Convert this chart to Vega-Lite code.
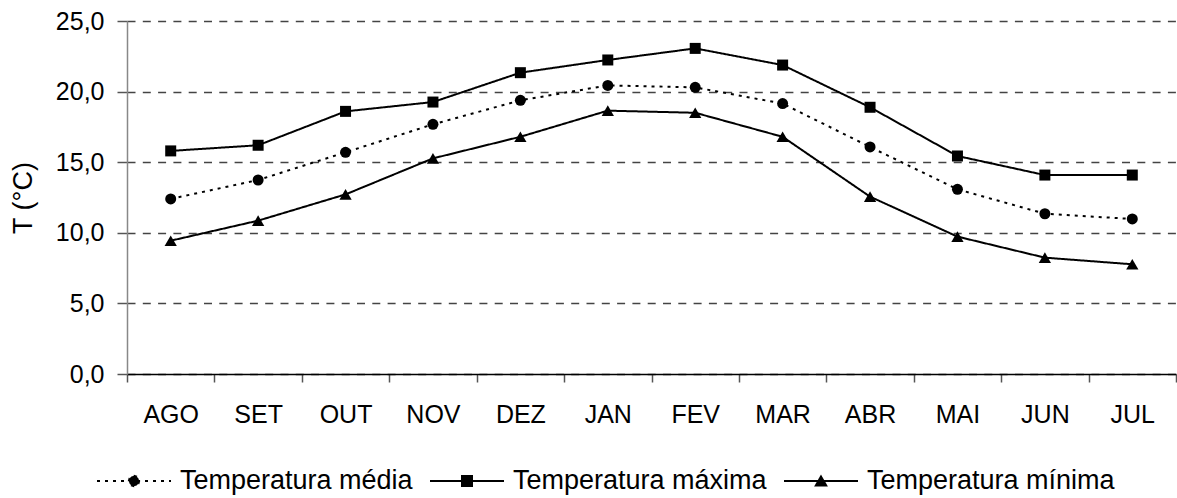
{
  "$schema": "https://vega.github.io/schema/vega-lite/v6.json",
  "autosize": "none",
  "width": 1049,
  "height": 353,
  "padding": {"left": 127, "top": 21, "right": 1, "bottom": 124},
  "background": "white",
  "config": {
    "font": "Liberation Sans",
    "view": {"stroke": null},
    "axis": {"labelFont": "Liberation Sans", "titleFont": "Liberation Sans", "labelColor": "black", "titleColor": "black"}
  },
  "data": {
    "values": [
      {"mes": "AGO", "serie": "Temperatura média", "t": 12.4},
      {"mes": "SET", "serie": "Temperatura média", "t": 13.74},
      {"mes": "OUT", "serie": "Temperatura média", "t": 15.7},
      {"mes": "NOV", "serie": "Temperatura média", "t": 17.68},
      {"mes": "DEZ", "serie": "Temperatura média", "t": 19.38},
      {"mes": "JAN", "serie": "Temperatura média", "t": 20.44},
      {"mes": "FEV", "serie": "Temperatura média", "t": 20.3},
      {"mes": "MAR", "serie": "Temperatura média", "t": 19.15},
      {"mes": "ABR", "serie": "Temperatura média", "t": 16.08},
      {"mes": "MAI", "serie": "Temperatura média", "t": 13.08},
      {"mes": "JUN", "serie": "Temperatura média", "t": 11.35},
      {"mes": "JUL", "serie": "Temperatura média", "t": 10.98},
      {"mes": "AGO", "serie": "Temperatura máxima", "t": 15.8},
      {"mes": "SET", "serie": "Temperatura máxima", "t": 16.2},
      {"mes": "OUT", "serie": "Temperatura máxima", "t": 18.6},
      {"mes": "NOV", "serie": "Temperatura máxima", "t": 19.26},
      {"mes": "DEZ", "serie": "Temperatura máxima", "t": 21.34},
      {"mes": "JAN", "serie": "Temperatura máxima", "t": 22.24},
      {"mes": "FEV", "serie": "Temperatura máxima", "t": 23.06},
      {"mes": "MAR", "serie": "Temperatura máxima", "t": 21.88},
      {"mes": "ABR", "serie": "Temperatura máxima", "t": 18.89},
      {"mes": "MAI", "serie": "Temperatura máxima", "t": 15.44},
      {"mes": "JUN", "serie": "Temperatura máxima", "t": 14.09},
      {"mes": "JUL", "serie": "Temperatura máxima", "t": 14.09},
      {"mes": "AGO", "serie": "Temperatura mínima", "t": 9.44},
      {"mes": "SET", "serie": "Temperatura mínima", "t": 10.86},
      {"mes": "OUT", "serie": "Temperatura mínima", "t": 12.72},
      {"mes": "NOV", "serie": "Temperatura mínima", "t": 15.27},
      {"mes": "DEZ", "serie": "Temperatura mínima", "t": 16.8},
      {"mes": "JAN", "serie": "Temperatura mínima", "t": 18.65},
      {"mes": "FEV", "serie": "Temperatura mínima", "t": 18.5},
      {"mes": "MAR", "serie": "Temperatura mínima", "t": 16.8},
      {"mes": "ABR", "serie": "Temperatura mínima", "t": 12.56},
      {"mes": "MAI", "serie": "Temperatura mínima", "t": 9.73},
      {"mes": "JUN", "serie": "Temperatura mínima", "t": 8.24},
      {"mes": "JUL", "serie": "Temperatura mínima", "t": 7.77}
    ]
  },
  "encoding": {
    "x": {
      "field": "mes",
      "type": "ordinal",
      "sort": ["AGO", "SET", "OUT", "NOV", "DEZ", "JAN", "FEV", "MAR", "ABR", "MAI", "JUN", "JUL"],
      "bandPosition": 0.5,
      "scale": {"type": "band", "paddingInner": 0, "paddingOuter": 0},
      "axis": {
        "title": null,
        "labelAngle": 0,
        "labelFontSize": 25,
        "labelPadding": 20,
        "tickBand": "extent",
        "tickSize": 8,
        "tickColor": "#555555",
        "tickWidth": 1.5,
        "domainColor": "black",
        "domainWidth": 1.5,
        "grid": false
      }
    },
    "y": {
      "field": "t",
      "type": "quantitative",
      "scale": {"domain": [0, 25], "nice": false, "zero": true},
      "axis": {
        "title": "T (°C)",
        "titleFontSize": 27,
        "titleFontWeight": "normal",
        "titlePadding": 18,
        "values": [0, 5, 10, 15, 20, 25],
        "labelExpr": "replace(format(datum.value, '.1f'), '.', ',')",
        "labelFontSize": 25,
        "labelPadding": 13,
        "tickSize": 10,
        "tickColor": "#555555",
        "tickWidth": 1.5,
        "domainColor": "#888888",
        "domainWidth": 1.5,
        "grid": true,
        "gridColor": "#444444",
        "gridWidth": 1.3,
        "gridDash": [8, 7.3]
      }
    }
  },
  "layer": [
    {
      "mark": {"type": "line", "color": "black", "strokeWidth": 2},
      "encoding": {
        "strokeDash": {
          "field": "serie",
          "type": "nominal",
          "scale": {
            "domain": ["Temperatura média", "Temperatura máxima", "Temperatura mínima"],
            "range": [[3, 5], [1, 0], [1, 0]]
          },
          "legend": {
            "title": null,
            "orient": "none",
            "legendX": -31,
            "legendY": 422,
            "direction": "horizontal",
            "padding": 0,
            "labelFont": "Liberation Sans",
            "labelFontSize": 27,
            "labelColor": "black",
            "labelLimit": 0,
            "labelOffset": 8,
            "columnPadding": 13,
            "symbolSize": 5476,
            "symbolStrokeWidth": 2,
            "symbolStrokeColor": "black",
            "symbolFillColor": "black",
            "symbolType": "M-1,0L1,0",
            "encode": {
              "symbols": {
                "update": {
                  "shape": {"signal": "datum.value === 'Temperatura média' ? 'M-1,0L1,0M0.14,0L0.121,0.07L0.07,0.121L0,0.14L-0.07,0.121L-0.121,0.07L-0.14,0L-0.121,-0.07L-0.07,-0.121L0,-0.14L0.07,-0.121L0.121,-0.07Z' : datum.value === 'Temperatura máxima' ? 'M-1,0L1,0M-0.135,-0.135L0.135,-0.135L0.135,0.135L-0.135,0.135Z' : 'M-1,0L1,0M0,-0.12L0.14,0.12L-0.14,0.12Z'"},
                  "fill": {"value": "black"},
                  "fillOpacity": {"value": 1},
                  "stroke": {"value": "black"},
                  "strokeWidth": {"value": 2},
                  "opacity": {"value": 1}
                }
              }
            }
          }
        }
      }
    },
    {
      "transform": [{"filter": "datum.serie === 'Temperatura média'"}],
      "mark": {"type": "point", "filled": true, "color": "black", "opacity": 1, "shape": "circle", "size": 121}
    },
    {
      "transform": [{"filter": "datum.serie === 'Temperatura máxima'"}],
      "mark": {"type": "point", "filled": true, "color": "black", "opacity": 1, "shape": "square", "size": 121}
    },
    {
      "transform": [{"filter": "datum.serie === 'Temperatura mínima'"}],
      "mark": {"type": "point", "filled": true, "color": "black", "opacity": 1, "shape": "triangle-up", "size": 150}
    }
  ]
}
